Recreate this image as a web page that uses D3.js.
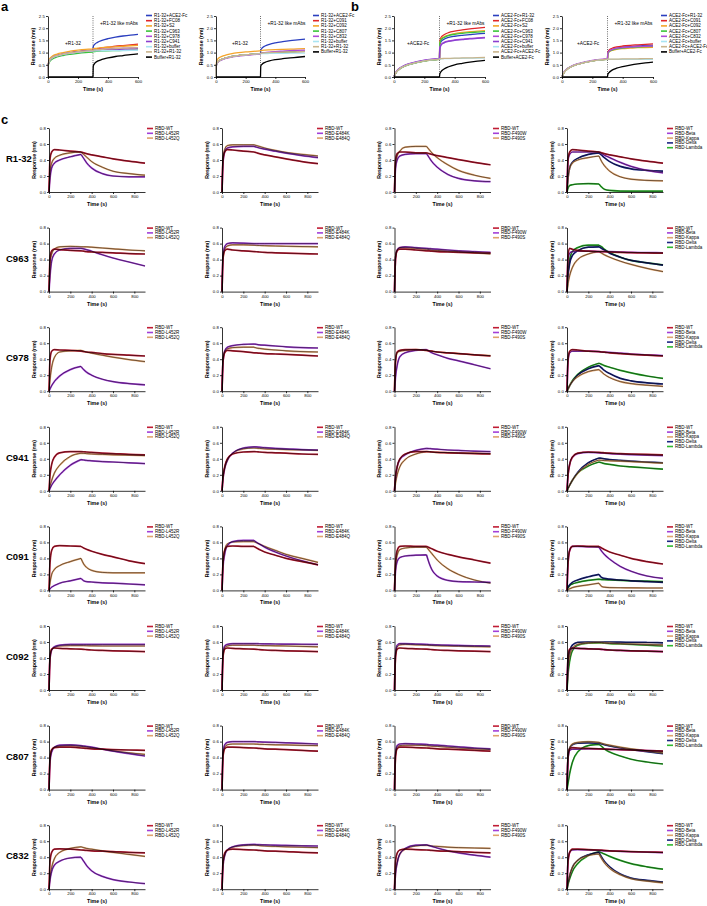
<!DOCTYPE html>
<html><head><meta charset="utf-8">
<script src="https://cdn.jsdelivr.net/npm/d3@7"></script>
<style>body{margin:0;background:#fff}svg{display:block}</style>
</head><body>
<svg id="chart" width="707" height="906"></svg>
<script>
// ---------------- DATA ----------------
// panel a / b time points (s); index 9 = 300 s (switch of phase)
const T_AB = [0, 3, 10, 30, 60, 100, 150, 200, 250, 300, 302, 310, 330, 360, 400, 450, 500, 550, 600];
const AB_SPLIT = 9;
const AB_COLORS = ["#2b3fbf", "#e0262a", "#f4a52a", "#3cc43c", "#b04ad8", "#8a3fd0", "#a9e4f2", "#c9b48c", "#000000"];
const AB_COLORS8 = ["#2b3fbf", "#e0262a", "#f4a52a", "#3cc43c", "#b04ad8", "#a9e4f2", "#c9b48c", "#000000"];

const A1_LABELS = ["R1-32+ACE2-Fc", "R1-32+FC08", "R1-32+S2", "R1-32+C963", "R1-32+C978", "R1-32+C941", "R1-32+buffer", "R1-32+R1-32", "Buffer+R1-32"];
const A1_VALUES = [
  [0, 0.55, 0.68, 0.80, 0.88, 0.94, 1.00, 1.04, 1.07, 1.10, 1.25, 1.33, 1.42, 1.50, 1.57, 1.63, 1.68, 1.72, 1.75],
  [0, 0.55, 0.68, 0.80, 0.88, 0.95, 1.00, 1.04, 1.08, 1.10, 1.12, 1.14, 1.16, 1.19, 1.22, 1.26, 1.29, 1.32, 1.35],
  [0, 0.60, 0.74, 0.86, 0.94, 1.00, 1.06, 1.10, 1.13, 1.15, 1.16, 1.17, 1.18, 1.20, 1.22, 1.24, 1.26, 1.28, 1.30],
  [0, 0.50, 0.62, 0.74, 0.82, 0.88, 0.93, 0.97, 1.00, 1.02, 1.03, 1.04, 1.05, 1.06, 1.07, 1.08, 1.09, 1.10, 1.10],
  [0, 0.55, 0.68, 0.80, 0.88, 0.94, 0.99, 1.03, 1.06, 1.08, 1.10, 1.11, 1.12, 1.14, 1.15, 1.17, 1.18, 1.19, 1.20],
  [0, 0.55, 0.67, 0.79, 0.87, 0.93, 0.98, 1.02, 1.05, 1.07, 1.08, 1.09, 1.10, 1.11, 1.12, 1.13, 1.14, 1.15, 1.16],
  [0, 0.55, 0.67, 0.79, 0.87, 0.93, 0.98, 1.02, 1.05, 1.07, 1.07, 1.07, 1.07, 1.075, 1.08, 1.08, 1.085, 1.09, 1.09],
  [0, 0.55, 0.68, 0.80, 0.88, 0.94, 0.99, 1.03, 1.06, 1.08, 1.10, 1.11, 1.12, 1.13, 1.15, 1.16, 1.18, 1.19, 1.20],
  [0, 0, 0, 0, 0, 0, 0, 0, 0, 0, 0.45, 0.55, 0.65, 0.72, 0.78, 0.84, 0.88, 0.92, 0.95]
];
const A2_LABELS = ["R1-32+ACE2-Fc", "R1-32+C091", "R1-32+C092", "R1-32+C807", "R1-32+C832", "R1-32+buffer", "R1-32+R1-32", "Buffer+R1-32"];
const A2_VALUES = [
  [0, 0.50, 0.60, 0.70, 0.77, 0.83, 0.88, 0.91, 0.94, 0.96, 1.10, 1.18, 1.27, 1.34, 1.40, 1.45, 1.49, 1.52, 1.55],
  [0, 0.50, 0.60, 0.70, 0.77, 0.83, 0.88, 0.91, 0.94, 0.96, 0.97, 0.98, 0.99, 1.00, 1.01, 1.02, 1.03, 1.04, 1.05],
  [0, 0.60, 0.72, 0.82, 0.89, 0.95, 1.00, 1.03, 1.05, 1.07, 1.08, 1.09, 1.10, 1.11, 1.12, 1.13, 1.14, 1.15, 1.16],
  [0, 0.50, 0.60, 0.70, 0.77, 0.83, 0.88, 0.91, 0.94, 0.96, 0.97, 0.98, 0.99, 1.00, 1.01, 1.02, 1.03, 1.04, 1.05],
  [0, 0.48, 0.58, 0.68, 0.75, 0.81, 0.86, 0.89, 0.92, 0.94, 0.96, 0.98, 1.00, 1.02, 1.04, 1.06, 1.08, 1.09, 1.10],
  [0, 0.50, 0.60, 0.70, 0.77, 0.83, 0.88, 0.91, 0.94, 0.96, 0.96, 0.96, 0.96, 0.965, 0.97, 0.97, 0.975, 0.98, 0.98],
  [0, 0.50, 0.60, 0.70, 0.77, 0.83, 0.88, 0.91, 0.94, 0.96, 0.97, 0.98, 0.99, 1.00, 1.01, 1.02, 1.03, 1.035, 1.04],
  [0, 0, 0, 0, 0, 0, 0, 0, 0, 0, 0.45, 0.52, 0.60, 0.66, 0.71, 0.75, 0.78, 0.81, 0.84]
];
const B1_LABELS = ["ACE2-Fc+R1-32", "ACE2-Fc+FC08", "ACE2-Fc+S2", "ACE2-Fc+C963", "ACE2-Fc+C978", "ACE2-Fc+C941", "ACE2-Fc+buffer", "ACE2-Fc+ACE2-Fc", "Buffer+ACE2-Fc"];
const B1_VALUES = [
  [0, 0.05, 0.15, 0.30, 0.42, 0.52, 0.60, 0.66, 0.70, 0.73, 1.30, 1.45, 1.55, 1.62, 1.67, 1.71, 1.74, 1.77, 1.79],
  [0, 0.05, 0.15, 0.30, 0.42, 0.52, 0.60, 0.66, 0.70, 0.72, 1.45, 1.62, 1.73, 1.82, 1.88, 1.93, 1.97, 2.00, 2.03],
  [0, 0.05, 0.15, 0.30, 0.42, 0.52, 0.60, 0.66, 0.70, 0.73, 1.40, 1.55, 1.65, 1.72, 1.78, 1.83, 1.86, 1.88, 1.90],
  [0, 0.05, 0.14, 0.29, 0.41, 0.51, 0.59, 0.65, 0.69, 0.72, 1.38, 1.52, 1.62, 1.70, 1.75, 1.79, 1.82, 1.84, 1.86],
  [0, 0.06, 0.17, 0.33, 0.45, 0.55, 0.63, 0.69, 0.73, 0.76, 1.20, 1.33, 1.42, 1.48, 1.52, 1.55, 1.58, 1.60, 1.62],
  [0, 0.06, 0.16, 0.32, 0.44, 0.54, 0.62, 0.68, 0.72, 0.75, 1.15, 1.30, 1.40, 1.46, 1.50, 1.53, 1.56, 1.58, 1.60],
  [0, 0.05, 0.15, 0.30, 0.42, 0.52, 0.60, 0.66, 0.70, 0.73, 0.73, 0.74, 0.75, 0.755, 0.76, 0.765, 0.77, 0.775, 0.78],
  [0, 0.05, 0.15, 0.30, 0.42, 0.52, 0.60, 0.66, 0.70, 0.73, 0.74, 0.75, 0.76, 0.765, 0.77, 0.78, 0.785, 0.79, 0.80],
  [0, 0, 0, 0, 0, 0, 0, 0, 0, 0, 0.12, 0.22, 0.33, 0.42, 0.50, 0.56, 0.61, 0.65, 0.68]
];
const B2_LABELS = ["ACE2-Fc+R1-32", "ACE2-Fc+C091", "ACE2-Fc+C092", "ACE2-Fc+C807", "ACE2-Fc+C832", "ACE2-Fc+buffer", "ACE2-Fc+ACE2-Fc", "Buffer+ACE2-Fc"];
const B2_VALUES = [
  [0, 0.05, 0.15, 0.30, 0.42, 0.52, 0.60, 0.66, 0.70, 0.73, 0.95, 1.05, 1.12, 1.18, 1.22, 1.25, 1.27, 1.29, 1.30],
  [0, 0.05, 0.15, 0.30, 0.42, 0.52, 0.60, 0.66, 0.70, 0.73, 1.00, 1.10, 1.18, 1.23, 1.27, 1.30, 1.32, 1.34, 1.36],
  [0, 0.05, 0.15, 0.30, 0.42, 0.52, 0.60, 0.66, 0.70, 0.72, 0.95, 1.03, 1.09, 1.13, 1.16, 1.18, 1.20, 1.21, 1.22],
  [0, 0.05, 0.15, 0.30, 0.42, 0.52, 0.60, 0.66, 0.70, 0.72, 0.95, 1.04, 1.10, 1.15, 1.18, 1.21, 1.23, 1.25, 1.26],
  [0, 0.06, 0.17, 0.32, 0.44, 0.54, 0.62, 0.68, 0.72, 0.75, 0.97, 1.06, 1.12, 1.17, 1.20, 1.23, 1.25, 1.26, 1.27],
  [0, 0.05, 0.15, 0.30, 0.42, 0.52, 0.60, 0.66, 0.70, 0.72, 0.72, 0.72, 0.72, 0.72, 0.72, 0.72, 0.72, 0.72, 0.72],
  [0, 0.05, 0.15, 0.30, 0.42, 0.52, 0.60, 0.66, 0.70, 0.73, 0.73, 0.73, 0.73, 0.735, 0.74, 0.74, 0.745, 0.75, 0.75],
  [0, 0, 0, 0, 0, 0, 0, 0, 0, 0, 0.10, 0.18, 0.28, 0.36, 0.43, 0.49, 0.54, 0.58, 0.61]
];

// panel c time points (s); index 6 = 300 s (start of dissociation)
const T_C = [0, 10, 25, 50, 100, 200, 300, 325, 350, 400, 500, 600, 750, 900];
const C_SPLIT = 6;
const ROW_LABELS = ["R1-32", "C963", "C978", "C941", "C091", "C092", "C807", "C832"];
const LEG_L452 = ["RBD-WT", "RBD-L452R", "RBD-L452Q"];
const LEG_E484 = ["RBD-WT", "RBD-E484K", "RBD-E484Q"];
const LEG_F490 = ["RBD-WT", "RBD-F490W", "RBD-F490S"];
const LEG_VAR = ["RBD-WT", "RBD-Beta", "RBD-Kappa", "RBD-Delta", "RBD-Lambda"];
const C_COLORS = ["#c01c34", "#a23fd8", "#dfa36d", "#1c2684", "#2fb82f"];

const R132_L452 = [
  [0, 0.42, 0.50, 0.53, 0.525, 0.51, 0.50, 0.49, 0.48, 0.465, 0.44, 0.415, 0.385, 0.36],
  [0, 0.18, 0.30, 0.36, 0.40, 0.44, 0.47, 0.42, 0.37, 0.30, 0.23, 0.20, 0.19, 0.19],
  [0, 0.25, 0.36, 0.42, 0.46, 0.49, 0.50, 0.47, 0.44, 0.38, 0.31, 0.26, 0.23, 0.21]];
const R132_E484 = [
  [0, 0.40, 0.50, 0.53, 0.525, 0.51, 0.50, 0.49, 0.48, 0.465, 0.44, 0.415, 0.38, 0.355],
  [0, 0.38, 0.50, 0.55, 0.565, 0.57, 0.57, 0.56, 0.55, 0.535, 0.51, 0.485, 0.455, 0.43],
  [0, 0.42, 0.53, 0.58, 0.59, 0.59, 0.59, 0.58, 0.57, 0.55, 0.52, 0.495, 0.47, 0.45]];
const R132_F490 = [
  [0, 0.40, 0.48, 0.50, 0.50, 0.49, 0.49, 0.48, 0.47, 0.455, 0.43, 0.405, 0.37, 0.34],
  [0, 0.30, 0.40, 0.45, 0.47, 0.48, 0.48, 0.43, 0.38, 0.31, 0.22, 0.17, 0.14, 0.13],
  [0, 0.35, 0.45, 0.51, 0.56, 0.57, 0.57, 0.53, 0.49, 0.43, 0.34, 0.27, 0.21, 0.17]];
const R132_VAR = [
  [0, 0.42, 0.50, 0.53, 0.525, 0.51, 0.50, 0.49, 0.48, 0.465, 0.44, 0.415, 0.385, 0.36],
  [0, 0.40, 0.47, 0.50, 0.50, 0.50, 0.50, 0.48, 0.46, 0.43, 0.37, 0.32, 0.27, 0.24],
  [0, 0.18, 0.30, 0.36, 0.40, 0.43, 0.45, 0.38, 0.33, 0.26, 0.19, 0.16, 0.145, 0.14],
  [0, 0.18, 0.30, 0.37, 0.42, 0.47, 0.49, 0.46, 0.43, 0.38, 0.32, 0.29, 0.27, 0.26],
  [0, 0.05, 0.08, 0.09, 0.10, 0.105, 0.10, 0.06, 0.035, 0.02, 0.012, 0.01, 0.01, 0.01]];

const C963_L452 = [
  [0, 0.42, 0.51, 0.53, 0.525, 0.515, 0.51, 0.505, 0.50, 0.495, 0.49, 0.485, 0.475, 0.47],
  [0, 0.20, 0.38, 0.47, 0.52, 0.54, 0.54, 0.535, 0.525, 0.505, 0.46, 0.42, 0.37, 0.32],
  [0, 0.35, 0.47, 0.53, 0.56, 0.565, 0.56, 0.56, 0.56, 0.555, 0.545, 0.535, 0.52, 0.51]];
const C963_E484 = [
  [0, 0.42, 0.51, 0.53, 0.52, 0.51, 0.50, 0.498, 0.495, 0.49, 0.485, 0.48, 0.475, 0.47],
  [0, 0.45, 0.56, 0.60, 0.61, 0.605, 0.60, 0.60, 0.60, 0.60, 0.60, 0.60, 0.60, 0.60],
  [0, 0.42, 0.53, 0.57, 0.585, 0.585, 0.58, 0.578, 0.576, 0.574, 0.57, 0.567, 0.563, 0.56]];
const C963_F490 = [
  [0, 0.42, 0.51, 0.53, 0.53, 0.52, 0.51, 0.508, 0.505, 0.50, 0.495, 0.49, 0.485, 0.48],
  [0, 0.42, 0.52, 0.55, 0.56, 0.55, 0.54, 0.538, 0.535, 0.53, 0.52, 0.51, 0.50, 0.49],
  [0, 0.42, 0.52, 0.55, 0.55, 0.54, 0.53, 0.525, 0.52, 0.515, 0.505, 0.50, 0.485, 0.47]];
const C963_VAR = [
  [0, 0.45, 0.54, 0.53, 0.515, 0.505, 0.50, 0.50, 0.50, 0.495, 0.49, 0.487, 0.483, 0.48],
  [0, 0.40, 0.48, 0.50, 0.505, 0.505, 0.50, 0.50, 0.50, 0.50, 0.495, 0.49, 0.488, 0.485],
  [0, 0.10, 0.20, 0.30, 0.40, 0.47, 0.50, 0.48, 0.46, 0.43, 0.38, 0.34, 0.29, 0.25],
  [0, 0.20, 0.35, 0.45, 0.51, 0.555, 0.56, 0.54, 0.52, 0.48, 0.43, 0.39, 0.36, 0.33],
  [0, 0.25, 0.40, 0.50, 0.55, 0.58, 0.58, 0.56, 0.53, 0.49, 0.43, 0.39, 0.36, 0.335]];

const C978_L452 = [
  [0, 0.40, 0.50, 0.52, 0.515, 0.51, 0.50, 0.495, 0.49, 0.485, 0.47, 0.46, 0.45, 0.44],
  [0, 0.03, 0.07, 0.12, 0.19, 0.27, 0.31, 0.27, 0.24, 0.20, 0.15, 0.12, 0.095, 0.08],
  [0, 0.15, 0.30, 0.42, 0.49, 0.505, 0.51, 0.50, 0.49, 0.475, 0.45, 0.425, 0.395, 0.37]];
const C978_E484 = [
  [0, 0.38, 0.48, 0.51, 0.505, 0.495, 0.48, 0.478, 0.475, 0.47, 0.465, 0.46, 0.45, 0.44],
  [0, 0.38, 0.50, 0.55, 0.57, 0.585, 0.59, 0.585, 0.58, 0.575, 0.565, 0.555, 0.545, 0.54],
  [0, 0.38, 0.50, 0.53, 0.545, 0.55, 0.55, 0.54, 0.535, 0.525, 0.515, 0.505, 0.495, 0.49]];
const C978_F490 = [
  [0, 0.38, 0.49, 0.51, 0.52, 0.52, 0.51, 0.505, 0.50, 0.49, 0.48, 0.47, 0.455, 0.44],
  [0, 0.18, 0.32, 0.43, 0.48, 0.51, 0.52, 0.50, 0.48, 0.455, 0.41, 0.38, 0.33, 0.28],
  [0, 0.38, 0.48, 0.50, 0.51, 0.52, 0.51, 0.505, 0.50, 0.49, 0.48, 0.47, 0.455, 0.445]];
const C978_VAR = [
  [0, 0.40, 0.50, 0.52, 0.515, 0.50, 0.495, 0.49, 0.488, 0.48, 0.47, 0.46, 0.45, 0.44],
  [0, 0.38, 0.48, 0.50, 0.50, 0.50, 0.495, 0.49, 0.488, 0.485, 0.475, 0.465, 0.455, 0.445],
  [0, 0.03, 0.07, 0.12, 0.18, 0.245, 0.27, 0.24, 0.21, 0.17, 0.12, 0.095, 0.075, 0.06],
  [0, 0.03, 0.07, 0.12, 0.20, 0.28, 0.32, 0.29, 0.26, 0.22, 0.16, 0.13, 0.105, 0.09],
  [0, 0.03, 0.07, 0.13, 0.21, 0.30, 0.35, 0.335, 0.32, 0.30, 0.26, 0.23, 0.19, 0.16]];

const C941_L452 = [
  [0, 0.20, 0.33, 0.42, 0.475, 0.49, 0.49, 0.488, 0.485, 0.48, 0.47, 0.465, 0.455, 0.45],
  [0, 0.03, 0.07, 0.12, 0.20, 0.32, 0.39, 0.385, 0.38, 0.375, 0.365, 0.36, 0.35, 0.34],
  [0, 0.06, 0.13, 0.22, 0.32, 0.43, 0.47, 0.468, 0.465, 0.46, 0.455, 0.45, 0.445, 0.44]];
const C941_E484 = [
  [0, 0.18, 0.30, 0.40, 0.46, 0.485, 0.49, 0.488, 0.485, 0.48, 0.475, 0.47, 0.46, 0.455],
  [0, 0.16, 0.28, 0.38, 0.47, 0.535, 0.55, 0.548, 0.545, 0.54, 0.53, 0.525, 0.515, 0.51],
  [0, 0.16, 0.28, 0.38, 0.47, 0.525, 0.535, 0.533, 0.53, 0.525, 0.52, 0.515, 0.51, 0.505]];
const C941_F490 = [
  [0, 0.18, 0.30, 0.40, 0.46, 0.49, 0.49, 0.488, 0.485, 0.48, 0.475, 0.47, 0.465, 0.46],
  [0, 0.17, 0.30, 0.39, 0.45, 0.505, 0.53, 0.528, 0.525, 0.52, 0.51, 0.505, 0.495, 0.49],
  [0, 0.10, 0.20, 0.30, 0.39, 0.46, 0.49, 0.488, 0.485, 0.48, 0.478, 0.475, 0.47, 0.465]];
const C941_VAR = [
  [0, 0.20, 0.33, 0.42, 0.47, 0.485, 0.48, 0.478, 0.475, 0.47, 0.465, 0.46, 0.455, 0.45],
  [0, 0.20, 0.33, 0.42, 0.465, 0.48, 0.475, 0.472, 0.47, 0.465, 0.458, 0.452, 0.445, 0.44],
  [0, 0.03, 0.07, 0.13, 0.22, 0.33, 0.385, 0.38, 0.378, 0.375, 0.37, 0.365, 0.355, 0.345],
  [0, 0.03, 0.07, 0.13, 0.23, 0.35, 0.41, 0.405, 0.40, 0.39, 0.38, 0.37, 0.36, 0.35],
  [0, 0.03, 0.07, 0.13, 0.22, 0.31, 0.36, 0.35, 0.34, 0.33, 0.31, 0.30, 0.285, 0.27]];

const C091_L452 = [
  [0, 0.35, 0.50, 0.55, 0.56, 0.555, 0.55, 0.53, 0.515, 0.49, 0.45, 0.42, 0.37, 0.335],
  [0, 0.02, 0.04, 0.06, 0.09, 0.12, 0.15, 0.12, 0.11, 0.105, 0.095, 0.09, 0.08, 0.07],
  [0, 0.10, 0.20, 0.26, 0.31, 0.36, 0.40, 0.33, 0.29, 0.25, 0.225, 0.22, 0.22, 0.22]];
const C091_E484 = [
  [0, 0.35, 0.50, 0.55, 0.555, 0.55, 0.55, 0.53, 0.51, 0.48, 0.44, 0.40, 0.36, 0.32],
  [0, 0.30, 0.45, 0.56, 0.61, 0.625, 0.625, 0.60, 0.58, 0.54, 0.48, 0.43, 0.37, 0.32],
  [0, 0.35, 0.50, 0.58, 0.605, 0.61, 0.61, 0.595, 0.58, 0.55, 0.50, 0.45, 0.40, 0.35]];
const C091_F490 = [
  [0, 0.35, 0.50, 0.55, 0.555, 0.55, 0.55, 0.535, 0.52, 0.49, 0.45, 0.42, 0.38, 0.34],
  [0, 0.25, 0.36, 0.41, 0.43, 0.44, 0.445, 0.34, 0.26, 0.18, 0.125, 0.11, 0.105, 0.10],
  [0, 0.30, 0.44, 0.51, 0.53, 0.54, 0.54, 0.50, 0.46, 0.38, 0.27, 0.20, 0.13, 0.09]];
const C091_VAR = [
  [0, 0.35, 0.50, 0.55, 0.555, 0.55, 0.55, 0.53, 0.51, 0.48, 0.44, 0.40, 0.36, 0.33],
  [0, 0.35, 0.50, 0.55, 0.55, 0.545, 0.54, 0.49, 0.45, 0.39, 0.30, 0.24, 0.18, 0.15],
  [0, 0.01, 0.02, 0.035, 0.05, 0.07, 0.09, 0.05, 0.04, 0.035, 0.033, 0.032, 0.03, 0.03],
  [0, 0.04, 0.07, 0.10, 0.13, 0.17, 0.20, 0.16, 0.15, 0.14, 0.13, 0.12, 0.11, 0.10],
  [0, 0.03, 0.06, 0.08, 0.10, 0.125, 0.14, 0.135, 0.133, 0.13, 0.125, 0.12, 0.115, 0.11]];

const C092_L452 = [
  [0, 0.42, 0.51, 0.525, 0.52, 0.515, 0.51, 0.508, 0.505, 0.50, 0.495, 0.49, 0.485, 0.48],
  [0, 0.40, 0.50, 0.54, 0.56, 0.57, 0.57, 0.57, 0.57, 0.57, 0.57, 0.57, 0.57, 0.57],
  [0, 0.40, 0.50, 0.53, 0.55, 0.555, 0.555, 0.555, 0.553, 0.552, 0.55, 0.55, 0.55, 0.55]];
const C092_E484 = [
  [0, 0.42, 0.51, 0.525, 0.52, 0.515, 0.51, 0.508, 0.505, 0.50, 0.495, 0.49, 0.485, 0.48],
  [0, 0.45, 0.55, 0.57, 0.58, 0.58, 0.58, 0.58, 0.578, 0.577, 0.575, 0.573, 0.572, 0.57],
  [0, 0.43, 0.53, 0.55, 0.56, 0.56, 0.56, 0.558, 0.556, 0.555, 0.552, 0.55, 0.545, 0.54]];
const C092_F490 = [
  [0, 0.42, 0.51, 0.525, 0.52, 0.515, 0.51, 0.508, 0.505, 0.50, 0.495, 0.49, 0.485, 0.48],
  [0, 0.45, 0.56, 0.58, 0.58, 0.575, 0.57, 0.568, 0.566, 0.564, 0.56, 0.557, 0.553, 0.55],
  [0, 0.44, 0.54, 0.565, 0.57, 0.565, 0.56, 0.558, 0.556, 0.554, 0.55, 0.547, 0.543, 0.54]];
const C092_VAR = [
  [0, 0.42, 0.51, 0.525, 0.52, 0.515, 0.51, 0.508, 0.505, 0.50, 0.495, 0.49, 0.485, 0.48],
  [0, 0.40, 0.50, 0.52, 0.52, 0.515, 0.51, 0.508, 0.505, 0.50, 0.495, 0.49, 0.485, 0.48],
  [0, 0.30, 0.43, 0.52, 0.57, 0.59, 0.595, 0.593, 0.59, 0.585, 0.58, 0.575, 0.57, 0.565],
  [0, 0.35, 0.48, 0.56, 0.595, 0.60, 0.60, 0.60, 0.60, 0.60, 0.598, 0.596, 0.594, 0.59],
  [0, 0.20, 0.36, 0.49, 0.56, 0.585, 0.59, 0.588, 0.585, 0.58, 0.575, 0.57, 0.56, 0.55]];

const C807_L452 = [
  [0, 0.40, 0.50, 0.525, 0.53, 0.53, 0.52, 0.518, 0.515, 0.51, 0.505, 0.50, 0.495, 0.49],
  [0, 0.35, 0.47, 0.53, 0.555, 0.56, 0.55, 0.545, 0.54, 0.53, 0.505, 0.48, 0.45, 0.42],
  [0, 0.38, 0.49, 0.53, 0.545, 0.55, 0.54, 0.537, 0.533, 0.525, 0.505, 0.485, 0.46, 0.44]];
const C807_E484 = [
  [0, 0.42, 0.51, 0.53, 0.53, 0.525, 0.52, 0.518, 0.515, 0.51, 0.505, 0.50, 0.49, 0.48],
  [0, 0.45, 0.56, 0.59, 0.60, 0.60, 0.60, 0.598, 0.596, 0.594, 0.59, 0.585, 0.578, 0.57],
  [0, 0.43, 0.53, 0.56, 0.57, 0.57, 0.57, 0.568, 0.566, 0.564, 0.56, 0.558, 0.553, 0.55]];
const C807_F490 = [
  [0, 0.42, 0.51, 0.53, 0.53, 0.525, 0.52, 0.518, 0.515, 0.51, 0.505, 0.50, 0.49, 0.48],
  [0, 0.45, 0.55, 0.57, 0.575, 0.57, 0.565, 0.56, 0.558, 0.555, 0.545, 0.535, 0.52, 0.51],
  [0, 0.43, 0.53, 0.55, 0.555, 0.555, 0.55, 0.547, 0.543, 0.54, 0.53, 0.52, 0.51, 0.50]];
const C807_VAR = [
  [0, 0.42, 0.51, 0.525, 0.52, 0.515, 0.51, 0.508, 0.506, 0.503, 0.50, 0.495, 0.488, 0.48],
  [0, 0.40, 0.49, 0.505, 0.505, 0.51, 0.51, 0.508, 0.506, 0.503, 0.50, 0.495, 0.488, 0.48],
  [0, 0.40, 0.52, 0.57, 0.59, 0.60, 0.59, 0.58, 0.57, 0.555, 0.53, 0.51, 0.485, 0.46],
  [0, 0.40, 0.52, 0.56, 0.58, 0.585, 0.58, 0.57, 0.56, 0.545, 0.52, 0.50, 0.475, 0.45],
  [0, 0.08, 0.20, 0.34, 0.47, 0.55, 0.565, 0.54, 0.51, 0.47, 0.42, 0.38, 0.345, 0.32]];

const C832_L452 = [
  [0, 0.35, 0.46, 0.50, 0.505, 0.50, 0.49, 0.488, 0.485, 0.48, 0.475, 0.47, 0.46, 0.455],
  [0, 0.12, 0.22, 0.30, 0.35, 0.39, 0.40, 0.35, 0.30, 0.23, 0.16, 0.12, 0.09, 0.07],
  [0, 0.15, 0.27, 0.38, 0.46, 0.51, 0.53, 0.52, 0.51, 0.50, 0.48, 0.46, 0.435, 0.41]];
const C832_E484 = [
  [0, 0.35, 0.45, 0.49, 0.50, 0.495, 0.49, 0.488, 0.485, 0.48, 0.475, 0.47, 0.46, 0.455],
  [0, 0.30, 0.42, 0.49, 0.53, 0.555, 0.56, 0.558, 0.556, 0.555, 0.55, 0.548, 0.543, 0.54],
  [0, 0.30, 0.42, 0.49, 0.525, 0.545, 0.55, 0.548, 0.545, 0.54, 0.535, 0.53, 0.525, 0.52]];
const C832_F490 = [
  [0, 0.35, 0.45, 0.49, 0.50, 0.495, 0.49, 0.488, 0.485, 0.48, 0.475, 0.47, 0.46, 0.455],
  [0, 0.20, 0.33, 0.44, 0.51, 0.55, 0.555, 0.545, 0.535, 0.515, 0.48, 0.455, 0.425, 0.40],
  [0, 0.20, 0.33, 0.44, 0.50, 0.54, 0.55, 0.545, 0.54, 0.535, 0.525, 0.52, 0.515, 0.51]];
const C832_VAR = [
  [0, 0.35, 0.46, 0.50, 0.50, 0.495, 0.49, 0.488, 0.485, 0.48, 0.475, 0.47, 0.465, 0.46],
  [0, 0.35, 0.46, 0.49, 0.495, 0.49, 0.485, 0.483, 0.48, 0.478, 0.473, 0.468, 0.463, 0.458],
  [0, 0.08, 0.17, 0.27, 0.36, 0.42, 0.44, 0.38, 0.33, 0.26, 0.18, 0.13, 0.10, 0.08],
  [0, 0.08, 0.17, 0.27, 0.36, 0.43, 0.46, 0.40, 0.35, 0.28, 0.19, 0.14, 0.11, 0.09],
  [0, 0.06, 0.13, 0.22, 0.32, 0.42, 0.47, 0.455, 0.44, 0.41, 0.36, 0.32, 0.28, 0.25]];

const C_GRID = [
  [R132_L452, R132_E484, R132_F490, R132_VAR],
  [C963_L452, C963_E484, C963_F490, C963_VAR],
  [C978_L452, C978_E484, C978_F490, C978_VAR],
  [C941_L452, C941_E484, C941_F490, C941_VAR],
  [C091_L452, C091_E484, C091_F490, C091_VAR],
  [C092_L452, C092_E484, C092_F490, C092_VAR],
  [C807_L452, C807_E484, C807_F490, C807_VAR],
  [C832_L452, C832_E484, C832_F490, C832_VAR]
];
const C_LEGENDS = [LEG_L452, LEG_E484, LEG_F490, LEG_VAR];

// ---------------- DRAWING ----------------
const FONT = 'Arial, "Liberation Sans", sans-serif';
const svg = d3.select("#chart");

function styleAxis(g, fs) {
  g.select(".domain").attr("stroke", "#000").attr("stroke-width", 0.8);
  g.selectAll(".tick line").attr("stroke", "#000").attr("stroke-width", 0.8);
  g.selectAll(".tick text").attr("font-family", FONT).attr("font-size", fs).attr("fill", "#000");
}

function splitPath(line, times, vals, split) {
  const pts = times.map((t, i) => [t, vals[i]]);
  return line(pts.slice(0, split + 1)) + line(pts.slice(split));
}

function drawFrame(g, x, y, xTicks, yTicks, yFmt, left, bottom, midY) {
  const ax = g.append("g").attr("transform", `translate(0,${bottom})`)
    .call(d3.axisBottom(x).tickValues(xTicks).tickFormat(d3.format("d")).tickSize(2).tickPadding(1.2).tickSizeOuter(0));
  styleAxis(ax, 4.3);
  const ay = g.append("g").attr("transform", `translate(${left},0)`)
    .call(d3.axisLeft(y).tickValues(yTicks).tickFormat(yFmt).tickSize(2).tickPadding(1.2).tickSizeOuter(0));
  styleAxis(ay, 4.3);
  g.append("text").attr("x", (x.range()[0] + x.range()[1]) / 2).attr("y", bottom + 14)
    .attr("text-anchor", "middle").attr("font-family", FONT).attr("font-size", 5.2).attr("font-weight", "bold").text("Time (s)");
  g.append("text").attr("transform", `translate(${left - 13.5},${midY}) rotate(-90)`)
    .attr("text-anchor", "middle").attr("font-family", FONT).attr("font-size", 5.2).attr("font-weight", "bold").text("Response (nm)");
}

function drawLegend(g, lx, ly, labels, colors, step) {
  labels.forEach((lab, i) => {
    const yy = ly + i * step;
    g.append("line").attr("x1", lx).attr("x2", lx + 6).attr("y1", yy).attr("y2", yy)
      .attr("stroke", colors[i]).attr("stroke-width", 1.6);
    g.append("text").attr("x", lx + 8).attr("y", yy + 1.5).attr("font-family", FONT)
      .attr("font-size", 4.5).attr("fill", "#000").text(lab);
  });
}

// ---- panels a, b ----
const AB_PANELS = [
  {x0: 48, x1: 138, vals: A1_VALUES, labels: A1_LABELS, colors: AB_COLORS, ann1: "+R1-32", ann1x: 17, legX: 146},
  {x0: 216, x1: 305, vals: A2_VALUES, labels: A2_LABELS, colors: AB_COLORS8, ann1: "+R1-32", ann1x: 16, legX: 313},
  {x0: 394, x1: 485, vals: B1_VALUES, labels: B1_LABELS, colors: AB_COLORS, ann1: "+ACE2-Fc", ann1x: 13, legX: 493},
  {x0: 562, x1: 653, vals: B2_VALUES, labels: B2_LABELS, colors: AB_COLORS8, ann1: "+ACE2-Fc", ann1x: 15, legX: 661}
];
AB_PANELS.forEach(p => {
  const top = 16, bottom = 77;
  const g = svg.append("g");
  const x = d3.scaleLinear().domain([0, 600]).range([p.x0, p.x1]);
  const y = d3.scaleLinear().domain([0, 2.5]).range([bottom, top]);
  const line = d3.line().x(d => x(d[0])).y(d => y(d[1])).curve(d3.curveMonotoneX);
  g.append("line").attr("x1", x(300)).attr("x2", x(300)).attr("y1", top).attr("y2", bottom)
    .attr("stroke", "#000").attr("stroke-width", 0.7).attr("stroke-dasharray", "0.8,1.4");
  p.vals.forEach((v, i) => {
    g.append("path").attr("d", splitPath(line, T_AB, v, AB_SPLIT)).attr("fill", "none")
      .attr("stroke", p.colors[i]).attr("stroke-width", 1.3);
  });
  drawFrame(g, x, y, [0, 200, 400, 600], [0, 0.5, 1.0, 1.5, 2.0, 2.5], d3.format(".1f"), p.x0, bottom, (top + bottom) / 2);
  g.append("text").attr("x", p.x0 + p.ann1x).attr("y", 45).attr("font-family", FONT).attr("font-size", 4.8).text(p.ann1);
  g.append("text").attr("x", x(300) + 7).attr("y", 24.5).attr("font-family", FONT).attr("font-size", 4.8).text("+R1-32 like mAbs");
  drawLegend(g, p.legX, 15.5, p.labels, p.colors, 5.2);
});

svg.append("text").attr("x", 1).attr("y", 11).attr("font-family", FONT).attr("font-size", 13).attr("font-weight", "bold").text("a");
svg.append("text").attr("x", 351).attr("y", 11).attr("font-family", FONT).attr("font-size", 13).attr("font-weight", "bold").text("b");
svg.append("text").attr("x", 1).attr("y", 124).attr("font-family", FONT).attr("font-size", 13).attr("font-weight", "bold").text("c");

// ---- panel c ----
const C_X0 = [49, 222, 394.5, 567];
const C_LEGX = [147, 317, 493, 667];
const C_W = 96, C_H = 64, ROW_STEP = 99.6;
C_GRID.forEach((row, r) => {
  const top = 128 + ROW_STEP * r, bottom = top + C_H;
  svg.append("text").attr("x", 6).attr("y", top + 34).attr("font-family", FONT)
    .attr("font-size", 9.5).attr("font-weight", "bold").text(ROW_LABELS[r]);
  row.forEach((curves, c) => {
    const g = svg.append("g");
    const x = d3.scaleLinear().domain([0, 900]).range([C_X0[c], C_X0[c] + C_W]);
    const y = d3.scaleLinear().domain([0, 0.8]).range([bottom, top]);
    const line = d3.line().x(d => x(d[0])).y(d => y(d[1])).curve(d3.curveMonotoneX);
    const order = d3.range(curves.length).reverse();
    order.forEach(i => {
      g.append("path").attr("d", splitPath(line, T_C, curves[i], C_SPLIT)).attr("fill", "none")
        .attr("stroke", C_COLORS[i]).attr("stroke-width", 1.7);
    });
    order.forEach(i => {
      g.append("path").attr("d", splitPath(line, T_C, curves[i], C_SPLIT)).attr("fill", "none")
        .attr("stroke", "#000").attr("stroke-width", 0.5);
    });
    drawFrame(g, x, y, [0, 200, 400, 600, 800], [0, 0.2, 0.4, 0.6, 0.8], d3.format(".1f"), C_X0[c], bottom, (top + bottom) / 2);
    drawLegend(g, C_LEGX[c], top + 0.5, C_LEGENDS[c], C_COLORS, 4.8);
  });
});
</script>
</body></html>
